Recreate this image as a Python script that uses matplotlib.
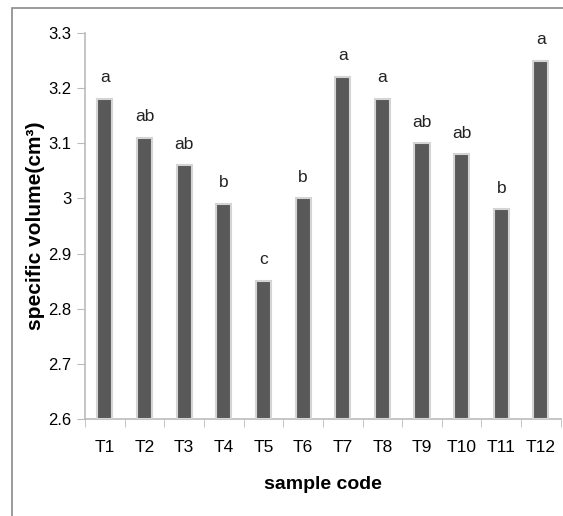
import numpy as np
import matplotlib.pyplot as plt
from matplotlib.patches import Rectangle

# dados
samples = ['T1', 'T2', 'T3', 'T4', 'T5', 'T6', 'T7', 'T8', 'T9', 'T10', 'T11', 'T12']
volume = [3.18, 3.11, 3.06, 2.99, 2.85, 3.00, 3.22, 3.18, 3.10, 3.08, 2.98, 3.25]
letters = ['a', 'ab', 'ab', 'b', 'c', 'b', 'a', 'a', 'ab', 'ab', 'b', 'a']

fnt = ['Liberation Sans', 'DejaVu Sans']

fig = plt.figure(figsize=(5.63, 5.16), dpi=100)
ax = fig.add_axes([0.151, 0.188, 0.845, 0.748])

x = np.arange(len(samples))
base = 2.6
ax.bar(x, np.array(volume) - base, bottom=base, width=0.38,
       color='#595959', edgecolor='#d4d4d4', linewidth=1.5, zorder=3)

# letras de significância
for xi, v, l in zip(x, volume, letters):
    ax.text(xi, v + 0.025, l, ha='center', va='bottom', fontsize=12.5,
            family=fnt, color='#222222')

ax.set_xlim(-0.5, len(samples) - 0.5)
ax.set_ylim(2.6, 3.3)
ax.set_yticks(np.arange(2.6, 3.31, 0.1))
ax.set_yticklabels(['2.6', '2.7', '2.8', '2.9', '3', '3.1', '3.2', '3.3'],
                   family=fnt, fontsize=12)
ax.set_xticks(x)
ax.set_xticklabels(samples, family=fnt, fontsize=12.5)
ax.set_xticks(np.arange(-0.5, len(samples), 1), minor=True)
ax.tick_params(axis='x', which='major', length=0, pad=15)
ax.tick_params(axis='x', which='minor', length=6, color='#bbbbbb')
ax.tick_params(axis='y', length=6, color='#bbbbbb', pad=4)

for s in ['top', 'right']:
    ax.spines[s].set_visible(False)
for s in ['left', 'bottom']:
    ax.spines[s].set_color('#bbbbbb')
    ax.spines[s].set_linewidth(1.2)

ax.set_ylabel('specific volume(cm³)', fontsize=15, fontweight='bold', family=fnt)
ax.yaxis.set_label_coords(-0.085, 0.5)
ax.set_xlabel('sample code', fontsize=14, fontweight='bold',
              family=fnt, labelpad=15)

# moldura
fig.patches.append(Rectangle((0.0213, -0.1), 1.2, 1.0845, transform=fig.transFigure,
                             fill=False, edgecolor='#8a8a8a', linewidth=1.2))

plt.savefig('out.png', dpi=100)
